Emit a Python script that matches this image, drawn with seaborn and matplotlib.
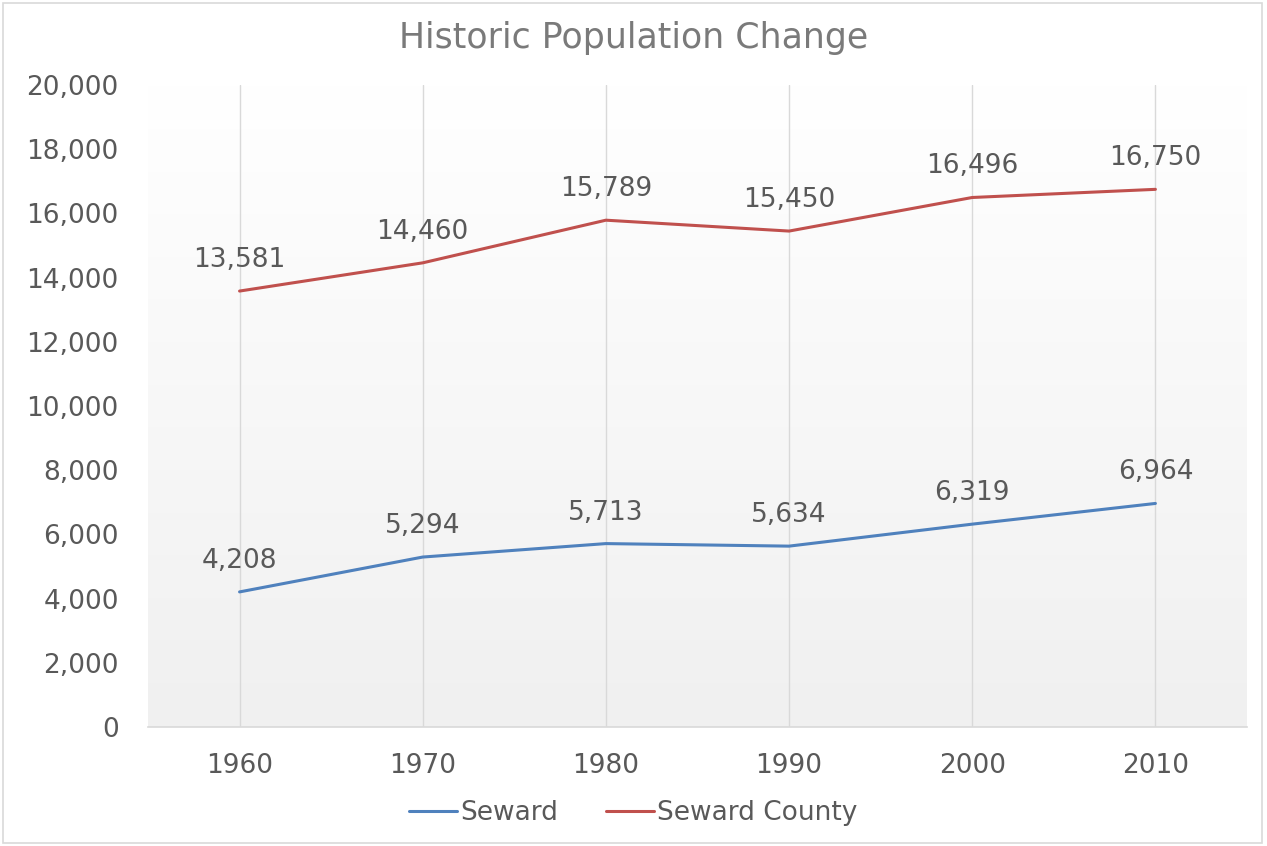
import numpy as np
import pandas as pd
import matplotlib
matplotlib.use("Agg")
import matplotlib.pyplot as plt
import seaborn as sns
from matplotlib.patches import Rectangle
from matplotlib.colors import LinearSegmentedColormap
from matplotlib.lines import Line2D

years = ["1960", "1970", "1980", "1990", "2000", "2010"]
seward = [4208, 5294, 5713, 5634, 6319, 6964]
seward_county = [13581, 14460, 15789, 15450, 16496, 16750]
series_names = ["Seward", "Seward County"]
colors = ["#4F81BD", "#C0504D"]
yticks = list(range(0, 20001, 2000))

sns.set_style("white")
plt.rcParams['font.family'] = ['DejaVu Sans']
txt = "#595959"
fs = 19

df = pd.DataFrame({"Year": years * 2,
                   "Population": seward + seward_county,
                   "Series": [series_names[0]] * 6 + [series_names[1]] * 6})
df["x"] = list(range(6)) * 2

fig = plt.figure(figsize=(12.67, 8.46), dpi=100)
ax = fig.add_axes([0.1168, 0.1407, 0.8674, 0.7588])

# gradient background (white at top, light gray at bottom)
grad = np.linspace(0.0, 1.0, 256).reshape(-1, 1)
cm = LinearSegmentedColormap.from_list("g", ["#ffffff", "#f0f0f0"])
ax.imshow(grad, aspect="auto", cmap=cm, extent=[-0.5, 5.5, 0, 20000], origin="upper",
          zorder=0, vmin=0, vmax=1)

for i in range(6):
    ax.axvline(i, color="#d9d9d9", lw=1.0, zorder=1)

sns.lineplot(data=df, x="x", y="Population", hue="Series", palette=colors,
             linewidth=2.2, ax=ax, legend=False, zorder=3)

for vals in (seward, seward_county):
    for i, v in enumerate(vals):
        ax.annotate(f"{v:,}", (i, v), xytext=(0, 13), textcoords="offset points",
                    ha="center", va="bottom", fontsize=fs, color=txt)

ax.set_xlim(-0.5, 5.5)
ax.set_ylim(0, 20000)
ax.set_yticks(yticks)
ax.set_yticklabels([f"{t:,}" for t in yticks], fontsize=fs, color=txt)
ax.set_xticks(range(6))
ax.set_xticklabels(years, fontsize=fs, color=txt)
ax.tick_params(axis="both", length=0)
ax.tick_params(axis="y", pad=21)
ax.tick_params(axis="x", pad=19)
ax.set_xlabel("")
ax.set_ylabel("")
for s in ["top", "right", "left"]:
    ax.spines[s].set_visible(False)
ax.spines["bottom"].set_color("#d9d9d9")
ax.spines["bottom"].set_linewidth(1.2)

fig.text(0.5, 0.955, "Historic Population Change", ha="center", va="center",
         fontsize=25, color="#7a7a7a")

handles = [Line2D([0], [0], color=c, lw=2.2) for c in colors]
fig.legend(handles, series_names, loc="center", bbox_to_anchor=(0.5, 0.039), ncol=2,
           frameon=False, fontsize=fs, labelcolor=txt, handlelength=1.8,
           handletextpad=0.15, columnspacing=1.8)

fig.patches.append(Rectangle((0.002, 0.003), 0.994, 0.994, transform=fig.transFigure,
                             fill=False, edgecolor="#d9d9d9", lw=1.2))

fig.savefig("out.png", dpi=100)
